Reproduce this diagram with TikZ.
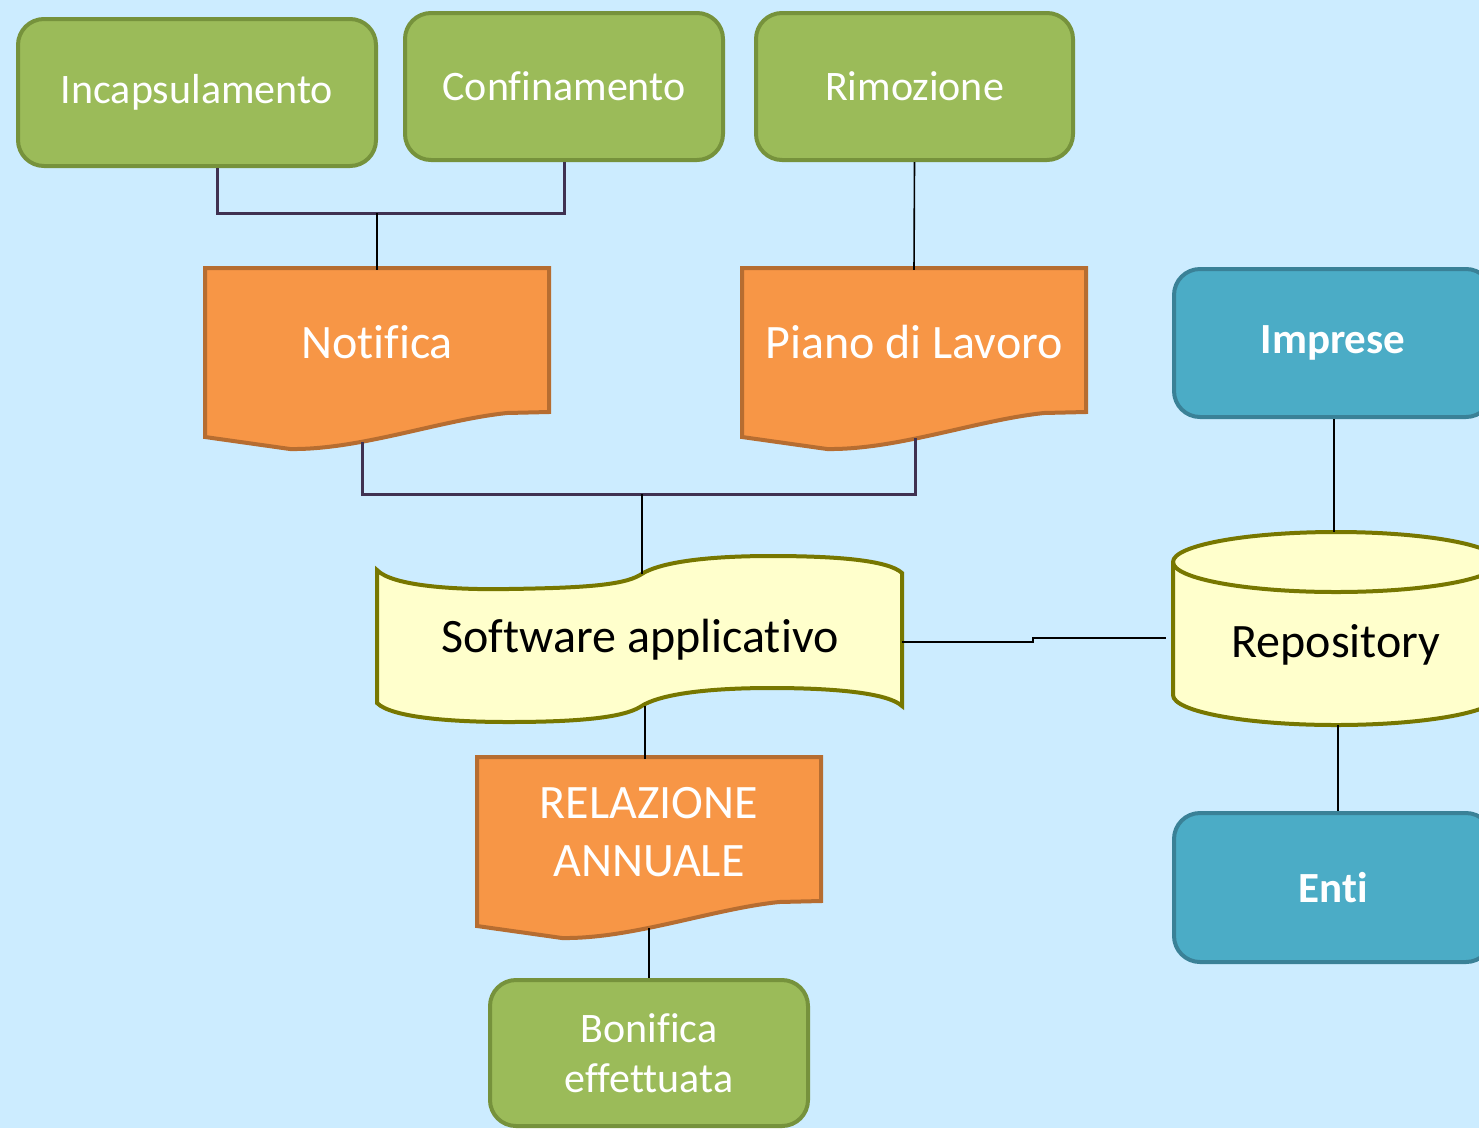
\documentclass[tikz,border=0pt]{standalone}
\usepackage{fontspec}
\setmainfont{Carlito}[Ligatures=NoCommon]
\definecolor{bg}{HTML}{CCECFF}
\definecolor{gfill}{HTML}{9BBB59}
\definecolor{gline}{HTML}{76923C}
\definecolor{ofill}{HTML}{F79646}
\definecolor{oline}{HTML}{B66D31}
\definecolor{bfill}{HTML}{4BACC6}
\definecolor{bline}{HTML}{3A8197}
\definecolor{yfill}{HTML}{FFFFCC}
\definecolor{yline}{HTML}{777700}
\definecolor{bus}{HTML}{3F3151}
\tikzset{
  greenbox/.style={rectangle, rounded corners=26pt, draw=gline, fill=gfill, line width=4pt,
    text=white, font=\fontsize{42}{50}\selectfont, align=center},
  bluebox/.style={rectangle, rounded corners=26pt, draw=bline, fill=bfill, line width=4pt,
    text=white, font=\fontsize{43}{50}\selectfont\bfseries, align=center},
  doctext/.style={rectangle, draw=none, text=white, font=\fontsize{48}{58}\selectfont, align=center},
  yeltext/.style={rectangle, draw=none, text=black, font=\fontsize{48}{56}\selectfont, align=center},
  docline/.style={draw=oline, fill=ofill, line width=4pt, line join=miter},
  yelline/.style={draw=yline, fill=yfill, line width=4pt},
  busline/.style={draw=bus, line width=3pt},
  link/.style={draw=black, line width=1.6pt},
  pics/docpic/.style={code={
    \path[docline] (0,0) -- (344,0) -- (344,144) -- (302,145)
      .. controls (235,152) and (155,182) .. (85,181) -- (0,169) -- cycle;
  }}
}
\begin{document}
\begin{tikzpicture}[x=1pt,y=-1pt]
\useasboundingbox (0,0) rectangle (1479,1128);
\clip (0,0) rectangle (1479,1128);
\fill[bg] (0,0) rectangle (1479,1128);

% top green boxes
\node[greenbox, minimum width=358pt, minimum height=147pt] (inc) at (197,92.5) {Incapsulamento};
\node[greenbox, minimum width=318pt, minimum height=147pt] (con) at (564,86.5) {Confinamento};
\node[greenbox, minimum width=317pt, minimum height=147pt] (rim) at (914.5,86.5) {Rimozione};

% document shapes
\pic at (205,268) {docpic};
\node[doctext, minimum width=344pt, minimum height=144pt] (not) at (377,342) {Notifica};
\pic at (742,268) {docpic};
\node[doctext, minimum width=344pt, minimum height=144pt] (pia) at (914,342) {Piano di Lavoro};
\pic at (477,757) {docpic};
\node[doctext, minimum width=344pt, minimum height=145pt] (rel) at (649,832) {RELAZIONE\\ANNUALE};

\coordinate (notb) at (362,442);
\coordinate (piab) at (915,438);
\coordinate (relb) at (649,928);

% tape shape (software)
\path[yelline] (377,570) .. controls (392,586) and (455,590) .. (508,589)
  .. controls (575,588) and (622,586) .. (640,575)
  .. controls (662,560) and (720,556) .. (771,556)
  .. controls (835,556) and (888,560) .. (902,573)
  -- (902,706)
  .. controls (888,693) and (835,688) .. (771,688)
  .. controls (720,688) and (662,692) .. (640,707)
  .. controls (622,718) and (575,722) .. (508,722)
  .. controls (455,722) and (392,718) .. (377,703) -- cycle;
\node[yeltext] (sw) at (640,640) {Software applicativo};
\coordinate (swt) at (642,574);
\coordinate (swb) at (645,706);
\coordinate (swe) at (902,642);

% cylinder (repository)
\path[yelline] (1173,562) -- (1173,695) arc[start angle=180, end angle=0, x radius=163, y radius=30]
  -- (1499,562) arc[start angle=0, end angle=-180, x radius=163, y radius=30] -- cycle;
\draw[yline, line width=4pt] (1173,562) arc[start angle=180, end angle=0, x radius=163, y radius=30];
\node[yeltext] (rep) at (1336,645) {Repository};
\coordinate (rept) at (1334,532);
\coordinate (repb) at (1338,725);
\coordinate (repw) at (1166,638);

% blue boxes
\node[bluebox, minimum width=318pt, minimum height=148pt] (imp) at (1333,343) {Imprese};
\node[bluebox, minimum width=318pt, minimum height=149pt] (ent) at (1333,887.5) {Enti};

% bottom green box
\node[greenbox, minimum width=318pt, minimum height=146pt] (bon) at (649,1053) {Bonifica\\effettuata};

% connectors
\coordinate (j1) at (377,213);
\draw[busline] ([xshift=20pt]inc.south) |- (j1) -| (con.south);
\draw[link] (j1) -- (not.north);
\draw[link] (rim.south) -- (pia.north);
\coordinate (j2) at (642,494);
\draw[busline] (notb) |- (j2) -| (piab);
\draw[link] (j2) -- (swt);
\draw[link] (swb) -- (rel.north -| swb);
\draw[link] (relb) -- (bon.north);
\draw[link] (swe) -- (1033,642) -- (1033,638) -- (repw);
\draw[link] (imp.south -| rept) -- (rept);
\draw[link] (repb) -- (ent.north -| repb);
\end{tikzpicture}
\end{document}
